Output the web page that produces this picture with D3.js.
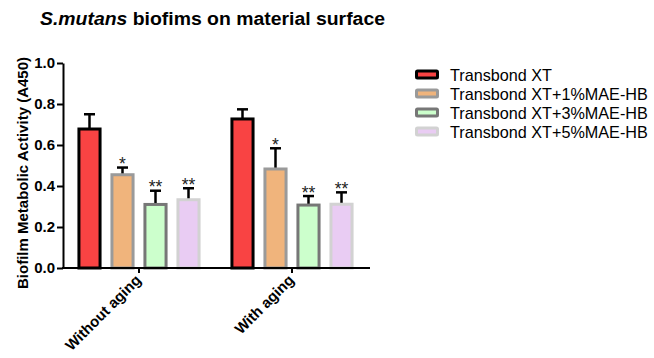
<!DOCTYPE html>
<html><head><meta charset="utf-8">
<script src="https://cdn.jsdelivr.net/npm/d3@7"></script>
<style>body{margin:0;background:#fff}svg{display:block}text{font-family:"Liberation Sans",Arial,sans-serif}</style>
</head><body>
<svg id="c" width="654" height="358"></svg>
<script>
const groups = ["Without aging", "With aging"];
const series = ["Transbond XT", "Transbond XT+1%MAE-HB", "Transbond XT+3%MAE-HB", "Transbond XT+5%MAE-HB"];
const means = [[0.678, 0.455, 0.310, 0.333], [0.727, 0.483, 0.307, 0.311]];
const errTops = [[0.750, 0.490, 0.377, 0.389], [0.774, 0.584, 0.351, 0.369]];
const stars = [["", "*", "**", "**"], ["", "*", "**", "**"]];
const yTicks = [0, 0.2, 0.4, 0.6, 0.8, 1.0];
const fills = ["#f94343", "#f0b47c", "#ccffcc", "#e9ccf3"];
const strokes = ["#000000", "#9a9a9a", "#777777", "#d2d2d2"];

const FONT = "Liberation Sans, Arial, sans-serif";
const svg = d3.select("#c");
const y = d3.scaleLinear().domain([0, 1]).range([268, 63]);
const x0 = d3.scaleBand().domain(groups).range([62.5, 368.5]);
const x1 = d3.scaleBand().domain(series).range([0, x0.bandwidth()]).paddingInner(0.36).paddingOuter(0.498);

// title
const t = svg.append("text").attr("x", 40).attr("y", 25).attr("font-size", 18).attr("font-weight", "bold")
  .attr("textLength", 345).attr("lengthAdjust", "spacingAndGlyphs");
t.append("tspan").attr("font-style", "italic").text("S.mutans");
t.append("tspan").text(" biofims on material surface");

// bars
groups.forEach((g, gi) => {
  series.forEach((s, si) => {
    const bx = x0(g) + x1(s);
    const bw = x1.bandwidth();
    const cx = bx + bw / 2;
    svg.append("line").attr("x1", cx).attr("x2", cx).attr("y1", y(means[gi][si])).attr("y2", y(errTops[gi][si]))
      .attr("stroke", "#000").attr("stroke-width", 2.5);
    svg.append("line").attr("x1", cx - 5.5).attr("x2", cx + 5.5).attr("y1", y(errTops[gi][si])).attr("y2", y(errTops[gi][si]))
      .attr("stroke", "#000").attr("stroke-width", 2.5);
    svg.append("rect").attr("x", bx).attr("y", y(means[gi][si])).attr("width", bw).attr("height", y(0) - y(means[gi][si]))
      .attr("fill", fills[si]).attr("stroke", strokes[si]).attr("stroke-width", 3);
    if (stars[gi][si]) {
      svg.append("text").attr("x", cx).attr("y", y(errTops[gi][si]) + 2.5).attr("text-anchor", "middle")
        .attr("font-size", 17.5).attr("fill", "#222").text(stars[gi][si]);
    }
  });
});

// y axis
const yAxis = svg.append("g").attr("transform", "translate(63,0)")
  .call(d3.axisLeft(y).tickValues(yTicks).tickFormat(d3.format(".1f")).tickSize(6).tickSizeOuter(0));
yAxis.select(".domain").attr("stroke-width", 2);
yAxis.selectAll(".tick line").attr("stroke-width", 2);
yAxis.selectAll(".tick text").attr("font-size", 15).attr("font-weight", "bold").attr("fill", "#000")
  .attr("font-family", FONT).attr("x", -8);

// x axis
const xAxis = svg.append("g").attr("transform", "translate(0,268)")
  .call(d3.axisBottom(x0).tickSize(5).tickSizeOuter(0));
xAxis.select(".domain").attr("d", "M62,0H370").attr("stroke-width", 2);
xAxis.selectAll(".tick line").attr("stroke-width", 2);
xAxis.selectAll(".tick text").attr("font-size", 15).attr("font-weight", "bold").attr("fill", "#000")
  .attr("font-family", FONT)
  .attr("text-anchor", "end").attr("dy", 0).attr("y", 0)
  .attr("transform", "translate(3,13) rotate(-45)");

// y label
svg.append("text").attr("transform", "translate(28,173) rotate(-90)").attr("text-anchor", "middle")
  .attr("font-size", 15).attr("font-weight", "bold").text("Biofilm Metabolic Activity (A450)");

// legend
const lg = svg.append("g");
series.forEach((s, si) => {
  const ly = 75 + si * 19;
  lg.append("rect").attr("x", 416.5).attr("y", ly - 4).attr("width", 21).attr("height", 7)
    .attr("fill", fills[si]).attr("stroke", strokes[si]).attr("stroke-width", 3).attr("rx", 1);
  lg.append("text").attr("x", 450).attr("y", ly + 6).attr("font-size", 16.2).text(s);
});
</script>
</body></html>
